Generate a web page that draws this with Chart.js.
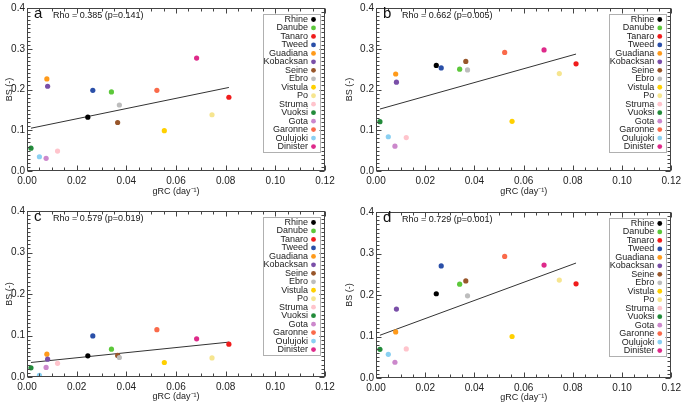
<!DOCTYPE html>
<html>
<head>
<meta charset="UTF-8">
<title>BS vs gRC</title>
<script src="https://cdn.jsdelivr.net/npm/chart.js@4/dist/chart.umd.min.js"></script>
<style>
    body { margin: 0; background: #fff; }
    .wrap { position: relative; width: 685px; height: 404px; overflow: hidden; }
    .panel { position: absolute; }
</style>
</head>
<body>
<div class="wrap">
    <div class="panel" style="left:0;top:0"><canvas id="pa" width="340" height="200"></canvas></div>
    <div class="panel" style="left:340px;top:0"><canvas id="pb" width="345" height="200"></canvas></div>
    <div class="panel" style="left:0;top:200px"><canvas id="pc" width="340" height="204"></canvas></div>
    <div class="panel" style="left:340px;top:200px"><canvas id="pd" width="345" height="204"></canvas></div>
</div>

<script>
// rivers and their colours
const rivers = ["Rhine", "Danube", "Tanaro", "Tweed", "Guadiana", "Kobacksan", "Seine", "Ebro",
    "Vistula", "Po", "Struma", "Vuoksi", "Gota", "Garonne", "Oulujoki", "Dinister"];
const colors = ["#000000", "#5cc83a", "#f01c1c", "#2a4fa8", "#ff9a1a", "#7a4fa8", "#98562a", "#bdbdbd",
    "#ffd000", "#f6e58f", "#ffc4cc", "#228b3a", "#cc88cc", "#fa6a4a", "#8ad0f2", "#de2a8a"];

// gRC (day-1), same for every panel
const gRC = [0.0245, 0.034, 0.0813, 0.0265, 0.008, 0.0083, 0.0365, 0.0372,
    0.0553, 0.0745, 0.0123, 0.0016, 0.0077, 0.0523, 0.005, 0.0683];

// BS (-) per panel
const bsA = [0.132, 0.194, 0.181, 0.198, 0.226, 0.208, 0.119, 0.162,
    0.099, 0.138, 0.049, 0.056, 0.031, 0.198, 0.035, 0.277];
const bsB = [0.259, 0.250, 0.263, 0.253, 0.238, 0.218, 0.269, 0.248,
    0.122, 0.239, 0.082, 0.121, 0.061, 0.291, 0.084, 0.297];
const bsC = [0.051, 0.067, 0.079, 0.099, 0.055, 0.043, 0.052, 0.047,
    0.035, 0.046, 0.033, 0.022, 0.023, 0.114, 0.004, 0.092];
const bsD = [0.203, 0.226, 0.227, 0.270, 0.111, 0.166, 0.234, 0.198,
    0.100, 0.236, 0.070, 0.069, 0.038, 0.293, 0.057, 0.272];

// regression lines (end points)
const fitX = [0.0016, 0.0813];
const fitA = [0.105, 0.205];
const fitB = [0.152, 0.287];
const fitC = [0.035, 0.084];
const fitD = [0.103, 0.277];

const letters = ["a", "b", "c", "d"];
const rhoText = ["Rho = 0.385 (p=0.141)", "Rho = 0.662 (p=0.005)", "Rho = 0.579 (p=0.019)", "Rho = 0.729 (p=0.001)"];

const xTicks = [0, 0.02, 0.04, 0.06, 0.08, 0.10, 0.12];
const yTicks = [0, 0.1, 0.2, 0.3, 0.4];

const FONT = "'Liberation Sans', Arial, Helvetica, sans-serif";
const AXIS = '#444';

// box frame with inward ticks on all four sides
const boxTicks = {
    id: 'boxTicks',
    afterDraw(chart) {
        const { ctx, chartArea: a, scales: { x, y } } = chart;
        const L = Math.round(a.left) + 0.5, R = Math.round(a.right) - 0.5;
        const T = Math.round(a.top) + 0.5, B = Math.round(a.bottom) - 0.5;
        ctx.save();
        ctx.strokeStyle = AXIS;
        ctx.lineWidth = 1;
        ctx.strokeRect(L, T, R - L, B - T);
        ctx.beginPath();
        for (let i = 0; i <= 24; i++) {
            const px = Math.round(x.getPixelForValue(i * 0.005)) + 0.5;
            const len = i % 4 === 0 ? 5 : 3;
            ctx.moveTo(px, B); ctx.lineTo(px, B - len);
            ctx.moveTo(px, T); ctx.lineTo(px, T + len);
        }
        for (let i = 0; i <= 40; i++) {
            const py = Math.round(y.getPixelForValue(i * 0.01)) + 0.5;
            const len = i % 10 === 0 ? 5 : 3;
            ctx.moveTo(L, py); ctx.lineTo(L + len, py);
            ctx.moveTo(R, py); ctx.lineTo(R - len, py);
        }
        ctx.stroke();
        ctx.restore();
    }
};

// panel letter, Rho text and the river legend
const panelText = {
    id: 'panelText',
    afterDraw(chart, args, opts) {
        const { ctx, chartArea: a } = chart;
        ctx.save();
        ctx.fillStyle = '#111';
        ctx.textBaseline = 'middle';
        ctx.textAlign = 'left';
        ctx.font = '15px ' + FONT;
        ctx.fillText(opts.letter, a.left + 7, a.top + 6);
        ctx.font = '9px ' + FONT;
        ctx.fillText(opts.rho, a.left + 26, a.top + 8);

        // legend box
        const bw = 57, bh = 138;
        const bx = a.right - 5 - bw, by = a.top + 6;
        ctx.strokeStyle = '#b0b0b0';
        ctx.strokeRect(Math.round(bx) + 0.5, Math.round(by) + 0.5, bw, bh);
        ctx.textAlign = 'right';
        ctx.font = '9px ' + FONT;
        rivers.forEach((r, i) => {
            const ry = by + 5.5 + i * 8.47;
            ctx.fillStyle = '#222';
            ctx.fillText(r, bx + bw - 12, ry);
            ctx.fillStyle = colors[i];
            ctx.beginPath();
            ctx.arc(bx + bw - 6.5, ry, 2.4, 0, Math.PI * 2);
            ctx.fill();
        });
        ctx.restore();
    }
};

function makePanel(id, bs, fit, idx, pad, yw, xh, tbot) {
    const pts = gRC.map((v, i) => ({ x: v, y: bs[i] }));
    new Chart(document.getElementById(id), {
        type: 'scatter',
        data: {
            datasets: [{
                data: pts,
                pointBackgroundColor: colors,
                pointBorderWidth: 0,
                pointRadius: 2.6,
                order: 0
            }, {
                data: fitX.map((v, i) => ({ x: v, y: fit[i] })),
                showLine: true,
                borderColor: '#333',
                borderWidth: 1,
                pointRadius: 0,
                order: 1
            }]
        },
        options: {
            responsive: false,
            animation: false,
            devicePixelRatio: 1,
            layout: { padding: pad },
            plugins: {
                legend: { display: false },
                tooltip: { enabled: false },
                panelText: { letter: letters[idx], rho: rhoText[idx] }
            },
            scales: {
                x: {
                    type: 'linear', min: 0, max: 0.12,
                    grid: { display: false, drawTicks: false },
                    border: { display: false },
                    afterBuildTicks: s => { s.ticks = xTicks.map(v => ({ value: v })); },
                    ticks: {
                        padding: 4, maxRotation: 0, autoSkip: false, color: '#222',
                        font: { family: FONT, size: 10 },
                        callback: v => v.toFixed(2)
                    },
                    title: {
                        display: true, text: 'gRC (day\u207B\u00B9)', color: '#222',
                        font: { family: FONT, size: 9 },
                        padding: { top: 0, bottom: tbot }
                    },
                    afterFit: s => { s.height = xh; }
                },
                y: {
                    type: 'linear', min: 0, max: 0.4,
                    grid: { display: false, drawTicks: false },
                    border: { display: false },
                    afterBuildTicks: s => { s.ticks = yTicks.map(v => ({ value: v })); },
                    ticks: {
                        padding: 2, color: '#222',
                        font: { family: FONT, size: 10 },
                        callback: v => v.toFixed(1)
                    },
                    title: {
                        display: true, text: 'BS (-)', color: '#222',
                        font: { family: FONT, size: 9 },
                        padding: { top: 4, bottom: 0 }
                    },
                    afterFit: s => { s.width = yw; }
                }
            }
        },
        plugins: [boxTicks, panelText]
    });
}

makePanel('pa', bsA, fitA, 0, { top: 6, right: 15, left: 0, bottom: 0 }, 27, 29, 3);
makePanel('pb', bsB, fitB, 1, { top: 5, right: 12, left: 0, bottom: 0 }, 36, 29, 3);
makePanel('pc', bsC, fitC, 2, { top: 11, right: 15, left: 0, bottom: 0 }, 27, 27, 2);
makePanel('pd', bsD, fitD, 3, { top: 12, right: 12, left: 0, bottom: 0 }, 36, 26, 1);
</script>
</body>
</html>
